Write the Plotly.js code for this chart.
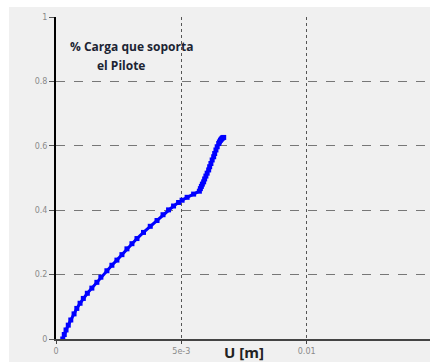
<!DOCTYPE html>
<html>
<head>
<meta charset="utf-8">
<script src="https://cdn.plot.ly/plotly-3.0.1.min.js"></script>
<style>
html,body{margin:0;padding:0;background:#ffffff;width:430px;height:362px;overflow:hidden;}
#chart{position:absolute;left:9px;top:7px;}
</style>
</head>
<body>
<div id="chart"></div>
<script>
// Displacement U [m]
const uValues = [
  0.00027, 0.00033, 0.00040, 0.00049, 0.00059, 0.00072, 0.00083, 0.00096, 0.00109, 0.00125,
  0.00143, 0.00163, 0.00179, 0.00203, 0.00223, 0.00243, 0.00263, 0.00283, 0.00303, 0.00323,
  0.00349, 0.00376, 0.00403, 0.00427, 0.00449, 0.00469, 0.00489, 0.00503, 0.00523, 0.00549,
  0.00572, 0.00576, 0.00580, 0.00584, 0.00589, 0.00593, 0.00598, 0.00603, 0.00609, 0.00613,
  0.00618, 0.00623, 0.00629, 0.00633, 0.00638, 0.00643, 0.00649, 0.00652, 0.00656, 0.00659,
  0.00662, 0.00665, 0.00669
];
// Fraction of load carried by the pile
const loadShare = [
  0.000, 0.014, 0.028, 0.043, 0.059, 0.078, 0.095, 0.111, 0.126, 0.142,
  0.158, 0.176, 0.192, 0.212, 0.229, 0.245, 0.262, 0.280, 0.296, 0.312,
  0.331, 0.350, 0.368, 0.386, 0.401, 0.413, 0.424, 0.431, 0.440, 0.450,
  0.459, 0.467, 0.474, 0.481, 0.488, 0.497, 0.506, 0.515, 0.525, 0.535,
  0.545, 0.556, 0.566, 0.576, 0.587, 0.597, 0.607, 0.612, 0.617, 0.620,
  0.623, 0.625, 0.626
];
const xTickVals = [0, 0.005, 0.01, 0.015];
const xTickText = ["0", "5e-3", "0.01", "0.015"];
const yTickVals = [0, 0.2, 0.4, 0.6, 0.8, 1];
const yTickText = ["0", "0.2", "0.4", "0.6", "0.8", "1"];

const trace = {
  x: uValues,
  y: loadShare,
  type: 'scatter',
  mode: 'lines+markers',
  line: {color: '#0000ff', width: 3},
  marker: {color: '#0000ff', size: 5, symbol: 'square', line: {width: 0}},
  hoverinfo: 'skip',
  showlegend: false
};

const layout = {
  width: 423,
  height: 355,
  margin: {l: 47, r: 0, t: 10, b: 23},
  paper_bgcolor: '#f0f0f0',
  plot_bgcolor: '#f0f0f0',
  xaxis: {
    range: [0, 0.015],
    tickvals: xTickVals,
    ticktext: xTickText,
    showgrid: true,
    gridcolor: '#555555',
    griddash: 'dot',
    gridwidth: 1,
    zeroline: false,
    showline: true,
    linecolor: '#444444',
    linewidth: 2,
    ticks: 'outside',
    ticklen: 3,
    tickcolor: '#444444',
    tickfont: {family: 'DejaVu Sans', size: 8, color: '#8a8a8a'},
    fixedrange: true
  },
  yaxis: {
    range: [0, 1],
    tickvals: yTickVals,
    ticktext: yTickText,
    showgrid: true,
    gridcolor: '#777777',
    griddash: 'dash',
    gridwidth: 1,
    zeroline: false,
    showline: true,
    linecolor: '#000000',
    linewidth: 2,
    ticks: 'outside',
    ticklen: 5,
    tickcolor: '#555555',
    tickfont: {family: 'DejaVu Sans', size: 8, color: '#8a8a8a'},
    fixedrange: true
  },
  annotations: [
    {
      text: '<b>% Carga que soporta</b>',
      xref: 'paper', yref: 'paper',
      x: 12 / 376, y: 1 - (46 - 17) / 322,
      xanchor: 'left', yanchor: 'middle',
      showarrow: false,
      font: {family: 'Open Sans', size: 12, color: '#1c2433'}
    },
    {
      text: '<b>el Pilote</b>',
      xref: 'paper', yref: 'paper',
      x: 39 / 376, y: 1 - (65 - 17) / 322,
      xanchor: 'left', yanchor: 'middle',
      showarrow: false,
      font: {family: 'Open Sans', size: 12, color: '#1c2433'}
    },
    {
      text: '<b>U [m]</b>',
      xref: 'x', yref: 'paper',
      x: 0.00748, y: -(352 - 339) / 322,
      xanchor: 'center', yanchor: 'middle',
      showarrow: false,
      font: {family: 'Open Sans', size: 15, color: '#222222'}
    }
  ]
};

Plotly.newPlot('chart', [trace], layout, {displayModeBar: false, staticPlot: true});
</script>
</body>
</html>
